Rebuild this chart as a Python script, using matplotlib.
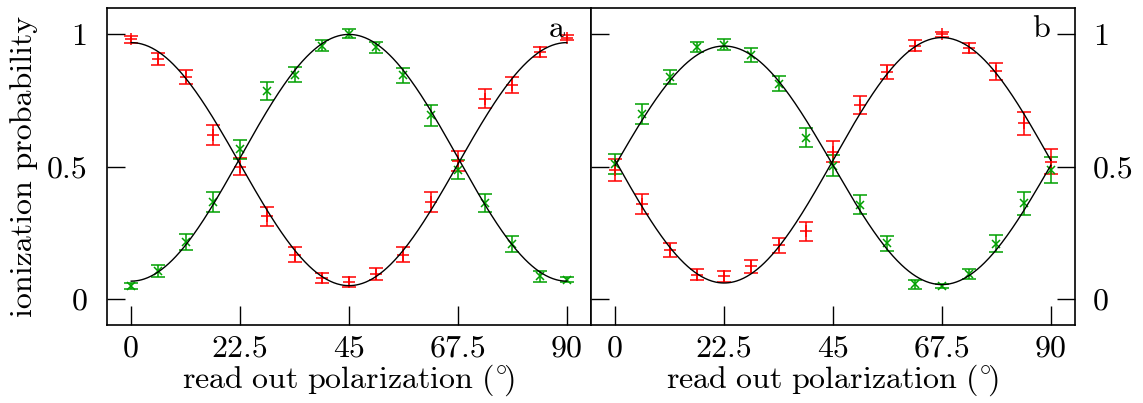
import numpy as np
import matplotlib
matplotlib.use('Agg')
import matplotlib.pyplot as plt

plt.rcParams['font.family'] = 'cmr10'
plt.rcParams['mathtext.fontset'] = 'cm'
plt.rcParams['axes.formatter.use_mathtext'] = True

# read out angles (deg)
angle = [0, 5.625, 11.25, 16.875, 22.5, 28.125, 33.75, 39.375, 45,
         50.625, 56.25, 61.875, 67.5, 73.125, 78.75, 84.375, 90]

# panel a
a_red = [0.981, 0.908, 0.839, 0.619, 0.499, 0.311, 0.166, 0.078, 0.062,
         0.094, 0.166, 0.365, 0.521, 0.757, 0.808, 0.933, 0.988]
a_red_err = [0.012, 0.022, 0.028, 0.038, 0.033, 0.035, 0.028, 0.019, 0.019,
             0.022, 0.028, 0.038, 0.038, 0.036, 0.030, 0.020, 0.011]
a_green = [0.047, 0.103, 0.214, 0.364, 0.566, 0.785, 0.848, 0.958, 1.003,
           0.952, 0.845, 0.694, 0.487, 0.361, 0.206, 0.084, 0.072]
a_green_err = [0.012, 0.023, 0.030, 0.038, 0.036, 0.035, 0.028, 0.019, 0.017,
               0.021, 0.029, 0.039, 0.036, 0.035, 0.030, 0.020, 0.011]

# panel b
b_red = [0.487, 0.358, 0.185, 0.091, 0.084, 0.122, 0.201, 0.254, 0.556,
         0.732, 0.858, 0.958, 1.000, 0.948, 0.860, 0.663, 0.518]
b_red_err = [0.040, 0.037, 0.026, 0.020, 0.022, 0.025, 0.030, 0.035, 0.039,
             0.035, 0.027, 0.019, 0.008, 0.020, 0.033, 0.044, 0.047]
b_green = [0.509, 0.697, 0.839, 0.952, 0.961, 0.921, 0.814, 0.609, 0.503,
           0.355, 0.210, 0.055, 0.047, 0.093, 0.208, 0.361, 0.487]
b_green_err = [0.039, 0.038, 0.028, 0.020, 0.021, 0.027, 0.030, 0.035, 0.039,
               0.036, 0.028, 0.017, 0.008, 0.020, 0.033, 0.044, 0.048]

# fitted curves: offset + amp*cos(4*theta) (a) / offset + amp*sin(4*theta) (b)
fit_a_red = (0.509, 0.460)
fit_a_green = (0.533, -0.467)
fit_b_red = (0.5235, -0.4645)
fit_b_green = (0.5045, 0.4515)

RED = '#ff0000'
GREEN = '#00a000'
FS = 23

fig = plt.figure(figsize=(11.43, 4.03), dpi=100)
axa = fig.add_axes([107/1143, 1-325/403, 484/1143, 317/403])
axb = fig.add_axes([591/1143, 1-325/403, 484/1143, 317/403])

th = np.linspace(0, 90, 500)
ang = np.array(angle)

def draw(ax, red, rerr, green, gerr, fr, fg, trig):
    ax.errorbar(ang, red, yerr=rerr, fmt='+', color=RED, ms=8, mew=1.1,
                elinewidth=1.1, capsize=5, capthick=1.1, zorder=2)
    ax.errorbar(ang, green, yerr=gerr, fmt='x', color=GREEN, ms=6, mew=1.1,
                elinewidth=1.1, capsize=5, capthick=1.1, zorder=2)
    ax.plot(th, fr[0] + fr[1]*trig(np.radians(4*th)), color='k', lw=1, zorder=3)
    ax.plot(th, fg[0] + fg[1]*trig(np.radians(4*th)), color='k', lw=1, zorder=3)
    ax.set_xlim(-5, 95)
    ax.set_ylim(-0.1, 1.1)
    ax.set_xticks([0, 22.5, 45, 67.5, 90])
    ax.set_xticklabels(['0', '22.5', '45', '67.5', '90'], fontsize=FS)
    ax.set_yticks([0, 0.5, 1])
    ax.set_xlabel(r'$\mathrm{read\ out\ polarization\ (^{\circ}\!)}$',
                  fontsize=FS, labelpad=0)
    ax.tick_params(axis='x', direction='in', length=14, width=1, top=False, pad=7)
    for s in ax.spines.values():
        s.set_linewidth(1.2)

draw(axa, a_red, a_red_err, a_green, a_green_err, fit_a_red, fit_a_green, np.cos)
draw(axb, b_red, b_red_err, b_green, b_green_err, fit_b_red, fit_b_green, np.sin)

axa.set_yticklabels(['0', '0.5', '1'], fontsize=FS)
axa.tick_params(axis='y', direction='in', length=13, width=1, right=False, pad=14)
axa.set_ylabel('ionization probability', fontsize=FS, labelpad=6)

axb.tick_params(axis='y', direction='in', length=13, width=1, left=True, right=True,
                labelleft=False, labelright=True, pad=13)
axb.set_yticklabels(['0', '0.5', '1'], fontsize=FS)

axa.text(0.93, 0.975, 'a', transform=axa.transAxes, fontsize=FS, ha='center', va='top')
axb.text(0.93, 0.975, 'b', transform=axb.transAxes, fontsize=FS, ha='center', va='top')

fig.savefig('out.png', dpi=100)
